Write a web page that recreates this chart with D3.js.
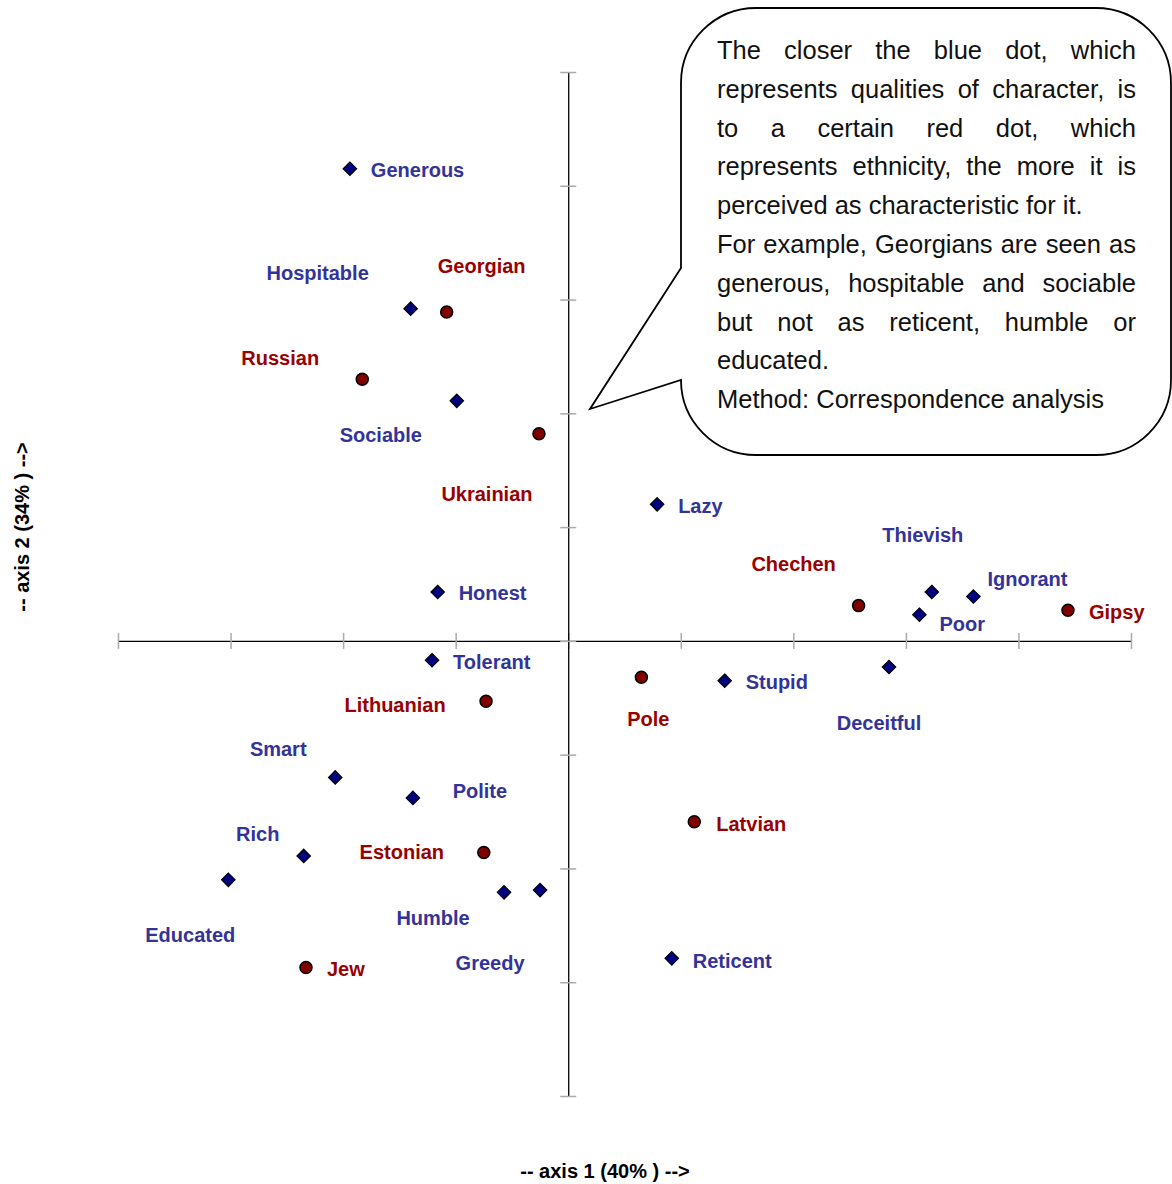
<!DOCTYPE html>
<html><head><meta charset="utf-8">
<script src="https://cdn.jsdelivr.net/npm/d3@7"></script>
<style>html,body{margin:0;padding:0;background:#fff;}</style>
</head><body>
<svg id="chart" width="1172" height="1184"></svg>
<script>
// ---- data ----
const qualityNames = ["Generous","Hospitable","Sociable","Lazy","Honest","Thievish","Ignorant","Poor","Tolerant","Stupid","Deceitful","Smart","Polite","Rich","Educated","Humble","Greedy","Reticent"];
const qualityX = [-1.94,-1.40,-0.99,0.79,-1.16,3.23,3.60,3.12,-1.21,1.39,2.85,-2.07,-1.38,-2.35,-3.02,-0.57,-0.25,0.92];
const qualityY = [4.15,2.92,2.11,1.20,0.43,0.43,0.39,0.23,-0.17,-0.35,-0.23,-1.20,-1.38,-1.89,-2.10,-2.21,-2.19,-2.79];
const ethnicNames = ["Georgian","Russian","Ukrainian","Chechen","Gipsy","Pole","Lithuanian","Latvian","Estonian","Jew"];
const ethnicX = [-1.08,-1.83,-0.26,2.58,4.44,0.65,-0.73,1.12,-0.75,-2.33];
const ethnicY = [2.89,2.30,1.82,0.31,0.27,-0.32,-0.53,-1.59,-1.86,-2.87];
const tickValues = [-4,-3,-2,-1,0,1,2,3,4,5];
const axisTitles = ["-- axis 1 (40% ) -->","-- axis 2 (34% ) -->"];
const calloutLines = [
  ["The closer the blue dot, which", true],
  ["represents qualities of character, is", true],
  ["to a certain red dot, which", true],
  ["represents ethnicity, the more it is", true],
  ["perceived as characteristic for it.", false],
  ["For example, Georgians are seen as", true],
  ["generous, hospitable and sociable", true],
  ["but not as reticent, humble or", true],
  ["educated.", false],
  ["Method: Correspondence analysis", false]
];
// label placement (pixel offsets from marker, text anchor)
const qualityLabelPos = [[21,1,"start"],[-93,-36,"middle"],[-76,34,"middle"],[21,1,"start"],[21,1,"start"],[-9,-57,"middle"],[54,-18,"middle"],[20,9,"start"],[21,2,"start"],[21,1,"start"],[-10,56,"middle"],[-57,-29,"middle"],[67,-7,"middle"],[-46,-22,"middle"],[-38,55,"middle"],[-71,25,"middle"],[-50,73,"middle"],[21,2,"start"]];
const ethnicLabelPos = [[35,-46,"middle"],[-82,-21,"middle"],[-52,60,"middle"],[-65,-42,"middle"],[21,2,"start"],[7,42,"middle"],[-91,4,"middle"],[22,2,"start"],[-82,-1,"middle"],[21,1,"start"]];

// ---- chart ----
const svg = d3.select("#chart");
const x = d3.scaleLinear().domain([-4,5]).range([118,1131]);
const y = d3.scaleLinear().domain([-4,5]).range([1096,72]);

function styleAxis(g, vertical){
  g.select(".domain").attr("stroke","#000").attr("stroke-width",1.3);
  g.selectAll(".tick line").remove();
  g.selectAll(".tick").append("line")
    .attr(vertical?"x1":"y1",-8).attr(vertical?"x2":"y2",8)
    .attr("stroke","#aaa").attr("stroke-width",1.5);
  g.selectAll(".tick text").remove();
}
const xAxis = svg.append("g").attr("transform",`translate(0,${y(0)})`)
  .call(d3.axisBottom(x).tickValues(tickValues).tickSizeOuter(0).tickFormat(""));
styleAxis(xAxis,false);
const yAxis = svg.append("g").attr("transform",`translate(${x(0)},0)`)
  .call(d3.axisLeft(y).tickValues(tickValues).tickSizeOuter(0).tickFormat(""));
styleAxis(yAxis,true);

const labelFont = "'Liberation Sans', Arial, sans-serif";
const qualities = qualityNames.map((n,i)=>({name:n,x:qualityX[i],y:qualityY[i],lp:qualityLabelPos[i]}));
const ethnics = ethnicNames.map((n,i)=>({name:n,x:ethnicX[i],y:ethnicY[i],lp:ethnicLabelPos[i]}));

svg.append("g").selectAll("path").data(qualities).join("path")
  .attr("d", d3.symbol(d3.symbolDiamond2, 115)())
  .attr("transform", d=>`translate(${x(d.x)},${y(d.y)})`)
  .attr("fill","#000080").attr("stroke","#000").attr("stroke-width",1.2);
svg.append("g").selectAll("circle").data(ethnics).join("circle")
  .attr("cx", d=>x(d.x)).attr("cy", d=>y(d.y)).attr("r",6)
  .attr("fill","#800000").attr("stroke","#000").attr("stroke-width",1.5);

function labels(data,color){
  svg.append("g").selectAll("text").data(data).join("text")
    .attr("x", d=>x(d.x)+d.lp[0]).attr("y", d=>y(d.y)+d.lp[1])
    .attr("dy","0.36em").attr("text-anchor", d=>d.lp[2])
    .attr("font-family",labelFont).attr("font-weight","bold").attr("font-size",20)
    .attr("fill",color).text(d=>d.name);
}
labels(qualities,"#333399");
labels(ethnics,"#990000");

// axis titles
svg.append("text").attr("x",605).attr("y",1178).attr("text-anchor","middle")
  .attr("font-family",labelFont).attr("font-weight","bold").attr("font-size",20)
  .text(axisTitles[0]);
svg.append("text").attr("transform","translate(29,527) rotate(-90)").attr("text-anchor","middle")
  .attr("font-family",labelFont).attr("font-weight","bold").attr("font-size",20)
  .text(axisTitles[1]);

// callout
const L=681,R=1171,T=8,B=455,r=75;
const calloutPath = `M${L+r},${T} H${R-r} A${r},${r} 0 0 1 ${R},${T+r} V${B-r} A${r},${r} 0 0 1 ${R-r},${B} H${L+r} A${r},${r} 0 0 1 ${L},${B-r} L590,409 L${L},268 V${T+r} A${r},${r} 0 0 1 ${L+r},${T} Z`;
svg.append("path").attr("d",calloutPath).attr("fill","#fff").attr("stroke","#000").attr("stroke-width",1.8);

const cFont = "'Liberation Sans', Arial, sans-serif", cSize = 25.5;
const textLeft = 717, textRight = 1136, base0 = 59, lineH = 38.8;
const cg = svg.append("g").attr("font-family",cFont).attr("font-size",cSize).attr("fill","#111");
const meas = cg.append("text").attr("x",-1000).attr("y",-1000);
function wWidth(s){ meas.text(s); return meas.node().getComputedTextLength(); }
calloutLines.forEach(([line,just],i)=>{
  const yy = base0 + i*lineH;
  if(!just){ cg.append("text").attr("x",textLeft).attr("y",yy).text(line); return; }
  const words = line.split(" ");
  const ws = words.map(wWidth);
  const gap = (textRight-textLeft - d3.sum(ws))/(words.length-1);
  let cx = textLeft;
  words.forEach((w,k)=>{ cg.append("text").attr("x",cx).attr("y",yy).text(w); cx += ws[k]+gap; });
});
meas.remove();
</script>
</body></html>
